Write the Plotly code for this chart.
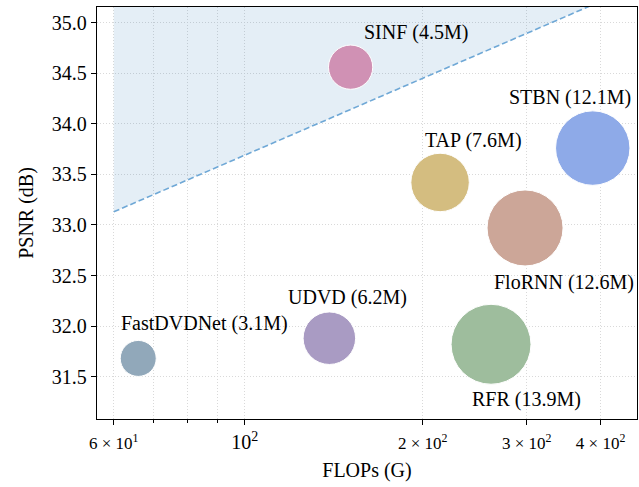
import numpy as np
import plotly.graph_objects as go

# Video denoising methods: cost vs. quality, bubble area ~ parameter count
models = ["FastDVDNet", "UDVD", "SINF", "TAP", "RFR", "FloRNN", "STBN"]
flops_g = [66, 139, 151, 214, 261, 298, 388]
psnr_db = [31.68, 31.88, 34.56, 33.42, 31.82, 32.97, 33.76]
params_m = [3.1, 6.2, 4.5, 7.6, 13.9, 12.6, 12.1]
colors = ["#91A8BA", "#A99BC3", "#D091B4", "#D4BD80", "#9EBD9D", "#CCA698", "#8EAAE8"]

# label offsets (px) relative to each bubble centre
label_dx = [66, 18, 65, 33, 35, 39, -23]
label_dy = [35, 41, 35, 42, -55, -55, 51]

# efficiency frontier (dashed) – region above it is shaded
frontier_x = [60, 480]
frontier_y = [33.13, 35.41]
y_top = 36.0

x_tickvals = [60, 100, 200, 300, 400]
x_ticktext = [
    "<span style='font-size:17px'>6 × 10<sup>1</sup></span>",
    "10<sup>2</sup>",
    "<span style='font-size:17px'>2 × 10<sup>2</sup></span>",
    "<span style='font-size:17px'>3 × 10<sup>2</sup></span>",
    "<span style='font-size:17px'>4 × 10<sup>2</sup></span>",
]
x_minor = [70, 80, 90]
y_ticks = [31.5, 32.0, 32.5, 33.0, 33.5, 34.0, 34.5, 35.0]

FONT = "Liberation Serif, Times New Roman, serif"
GRID = dict(gridcolor="#D9D9D9", gridwidth=0.8, griddash="1px,2px")

fig = go.Figure()

# shaded region above the frontier
fig.add_trace(go.Scatter(
    x=[frontier_x[0], frontier_x[1], frontier_x[1], frontier_x[0]],
    y=[frontier_y[0], frontier_y[1], y_top, y_top],
    fill="toself", fillcolor="rgba(31,119,180,0.12)",
    line=dict(width=0), mode="lines", hoverinfo="skip", showlegend=False,
))
fig.add_trace(go.Scatter(
    x=frontier_x, y=frontier_y, mode="lines",
    line=dict(color="#6FA8D6", width=1.6, dash="6px,3px"),
    hoverinfo="skip", showlegend=False,
))

bubble_px = np.sqrt(np.array(params_m) * 472 - 169)
fig.add_trace(go.Scatter(
    x=flops_g, y=psnr_db, mode="markers",
    marker=dict(size=bubble_px, sizemode="diameter", color=colors,
                opacity=1.0, line=dict(color="white", width=1)),
    showlegend=False, cliponaxis=False,
))

for name, fx, py, p, dx, dy in zip(models, flops_g, psnr_db, params_m, label_dx, label_dy):
    fig.add_annotation(
        x=np.log10(fx), y=py, xref="x", yref="y",
        text=f"{name} ({p}M)", showarrow=False,
        xshift=dx, yshift=dy, xanchor="center", yanchor="middle",
        font=dict(family=FONT, size=20, color="black"),
    )

axis_common = dict(
    showline=True, linecolor="black", linewidth=1.3, mirror=True,
    ticks="outside", ticklen=5, tickwidth=1, tickcolor="black",
    showgrid=True, zeroline=False,
    tickfont=dict(family=FONT, size=20, color="black"),
    **GRID,
)

fig.update_xaxes(
    type="log", range=[np.log10(56.2), np.log10(461)],
    tickmode="array", tickvals=x_tickvals, ticktext=x_ticktext,
    minor=dict(tickmode="array", tickvals=x_minor, ticks="outside", ticklen=3,
               tickcolor="black", showgrid=True, **GRID),
    title=dict(text="FLOPs (G)", font=dict(family=FONT, size=20, color="black"), standoff=10),
    **axis_common,
)
fig.update_yaxes(
    range=[31.081, 35.155], tickmode="array", tickvals=y_ticks,
    tickformat=".1f",
    title=dict(text="PSNR (dB)", font=dict(family=FONT, size=20, color="black"), standoff=12),
    **axis_common,
)

fig.update_layout(
    width=639, height=487,
    margin=dict(l=97, r=2, t=7, b=68),
    plot_bgcolor="white", paper_bgcolor="white",
    font=dict(family=FONT, size=20, color="black"),
)

fig.write_html("out.html")
